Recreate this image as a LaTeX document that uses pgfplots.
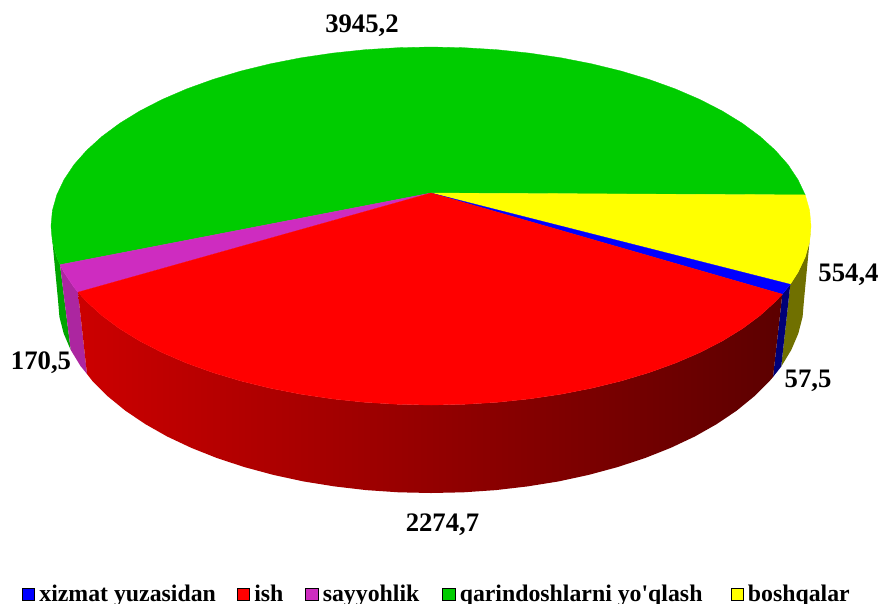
\documentclass[border=0pt]{standalone}
\usepackage{fontspec}
\setmainfont{Liberation Serif}
\newfontfamily\lib{Liberation Serif}
\usepackage{pgfplots}
\pgfplotsset{compat=1.18}
\definecolor{cgreen}{RGB}{0,204,0}
\definecolor{cgreenS}{RGB}{0,165,0}
\definecolor{cred}{RGB}{255,0,0}
\definecolor{cpurple}{RGB}{206,44,192}
\definecolor{cpurpleS}{RGB}{172,38,160}
\definecolor{cblue}{RGB}{0,0,255}
\definecolor{cblueS}{RGB}{0,0,120}
\definecolor{cyellow}{RGB}{255,255,0}
\definecolor{cyellowS}{RGB}{112,112,0}
\begin{document}
\begin{tikzpicture}
\clip (0,0) rectangle (882pt,603pt);
\begin{axis}[
  at={(0,0)},anchor=south west,
  width=882pt,height=603pt,scale only axis,
  axis lines=none,
  xmin=0,xmax=882,ymin=0,ymax=603,y dir=reverse,
  clip=false,
  legend style={at={(axis cs:22,594)},anchor=west,draw=none,fill=none,inner sep=0pt,outer sep=0pt,
    font=\fontsize{23.8}{26}\selectfont\lib\bfseries,legend columns=-1,
    /tikz/every odd column/.append style={column sep=2.7pt},
    /tikz/every even column/.append style={column sep=19pt}},
  legend cell align=left,
  legend image code/.code={\fill[#1] (0pt,-6.2pt) rectangle (12.3pt,6.2pt);},
]
% side walls
\addplot[forget plot,fill=cgreenS,draw=none] coordinates {(51,226)(52.4,241.6)(56.8,257.1)(60,264.7)(70.7,349.9)(63.7,333.5)(59.4,316.8)(58,300)};
\addplot[forget plot,fill=cpurpleS,draw=none] coordinates {(60,264.7)(64,272.3)(73.9,287.2)(78,292.2)(87,374)(80.5,366)(70.7,349.9)};
\addplot[forget plot,fill=cyellowS,draw=none] coordinates {(790.3,284.3)(798,272.3)(805.2,257.1)(809.6,241.6)(811,226)(804,300)(802.6,316.8)(798.3,333.5)(791.3,349.9)(781.2,366.6)};
\addplot[forget plot,fill=cblueS,draw=none] coordinates {(790.3,284.3)(782.3,294.2)(773,377)(781.2,366.6)};
\addplot[forget plot,draw=none,left color=red!80!black,middle color=red!56!black,right color=red!36!black] coordinates {(782.3,294.2)(775.4,301.6)(760.1,315.5)(742.3,328.7)(722.1,341.1)(699.7,352.6)(675.3,363.1)(649,372.6)(621,381)(591.6,388.2)(561,394.2)(529.3,398.9)(497,402.3)(464.1,404.3)(431,405)(397.9,404.3)(365,402.3)(332.7,398.9)(301,394.2)(270.4,388.2)(241,381)(213,372.6)(186.7,363.1)(162.3,352.6)(139.9,341.1)(119.7,328.7)(101.9,315.5)(86.6,301.6)(78,292.2)(87,374)(92.9,381.6)(108,396.5)(125.4,410.7)(145.3,424.1)(167.2,436.5)(191.2,447.8)(217.1,458.1)(244.5,467.1)(273.4,474.9)(303.4,481.4)(334.5,486.4)(366.2,490.1)(398.5,492.3)(431,493)(463.5,492.3)(495.8,490.1)(527.5,486.4)(558.6,481.4)(588.6,474.9)(617.5,467.1)(644.9,458.1)(670.8,447.8)(694.8,436.5)(716.7,424.1)(736.6,410.7)(754,396.5)(769.1,381.6)(773,377)};
% top sectors
\addplot[forget plot,fill=cgreen,draw=cgreen,line width=0.3pt] coordinates {(431,193)(60,264.7)(56.8,257.1)(52.4,241.6)(51,226)(52.4,210.4)(56.8,194.9)(64,179.7)(73.9,164.8)(86.6,150.4)(101.9,136.5)(119.7,123.3)(139.9,110.9)(162.3,99.4)(186.7,88.9)(213,79.4)(241,71)(270.4,63.8)(301,57.8)(332.7,53.1)(365,49.7)(397.9,47.7)(431,47)(464.1,47.7)(497,49.7)(529.3,53.1)(561,57.8)(591.6,63.8)(621,71)(649,79.4)(675.3,88.9)(699.7,99.4)(722.1,110.9)(742.3,123.3)(760.1,136.5)(775.4,150.4)(788.1,164.8)(798,179.7)(805.2,194.9)(431,193)};
\addplot[forget plot,fill=cyellow,draw=cyellow,line width=0.3pt] coordinates {(431,193)(805.2,194.9)(809.6,210.4)(811,226)(809.6,241.6)(805.2,257.1)(798,272.3)(790.3,284.3)(431,193)};
\addplot[forget plot,fill=cblue,draw=cblue,line width=0.3pt] coordinates {(431,193)(790.3,284.3)(782.3,294.2)(431,193)};
\addplot[forget plot,fill=cpurple,draw=cpurple,line width=0.3pt] coordinates {(431,193)(78,292.2)(73.9,287.2)(64,272.3)(60,264.7)(431,193)};
\addplot[forget plot,fill=cred,draw=cred,line width=0.3pt] coordinates {(431,193)(782.3,294.2)(775.4,301.6)(760.1,315.5)(742.3,328.7)(722.1,341.1)(699.7,352.6)(675.3,363.1)(649,372.6)(621,381)(591.6,388.2)(561,394.2)(529.3,398.9)(497,402.3)(464.1,404.3)(431,405)(397.9,404.3)(365,402.3)(332.7,398.9)(301,394.2)(270.4,388.2)(241,381)(213,372.6)(186.7,363.1)(162.3,352.6)(139.9,341.1)(119.7,328.7)(101.9,315.5)(86.6,301.6)(78,292.2)(431,193)};
% legend
\addlegendimage{fill=cblue}\addlegendentry{xizmat yuzasidan}
\addlegendimage{fill=cred}\addlegendentry{ish\hspace*{1pt}}
\addlegendimage{fill=cpurple}\addlegendentry{sayyohlik\hspace*{2pt}}
\addlegendimage{fill=cgreen}\addlegendentry{qarindoshlarni yo'qlash\hspace*{7pt}}
\addlegendimage{fill=cyellow}\addlegendentry{boshqalar}
% value labels
\node[font=\fontsize{26.7}{28}\selectfont\bfseries] at (axis cs:362,26) {3945,2};
\node[font=\fontsize{26.7}{28}\selectfont\bfseries] at (axis cs:848.5,275) {554,4};
\node[font=\fontsize{26.7}{28}\selectfont\bfseries] at (axis cs:808,381) {57,5};
\node[font=\fontsize{26.7}{28}\selectfont\bfseries] at (axis cs:41,363) {170,5};
\node[font=\fontsize{26.7}{28}\selectfont\bfseries] at (axis cs:442.5,525) {2274,7};
\end{axis}
\end{tikzpicture}
\end{document}
